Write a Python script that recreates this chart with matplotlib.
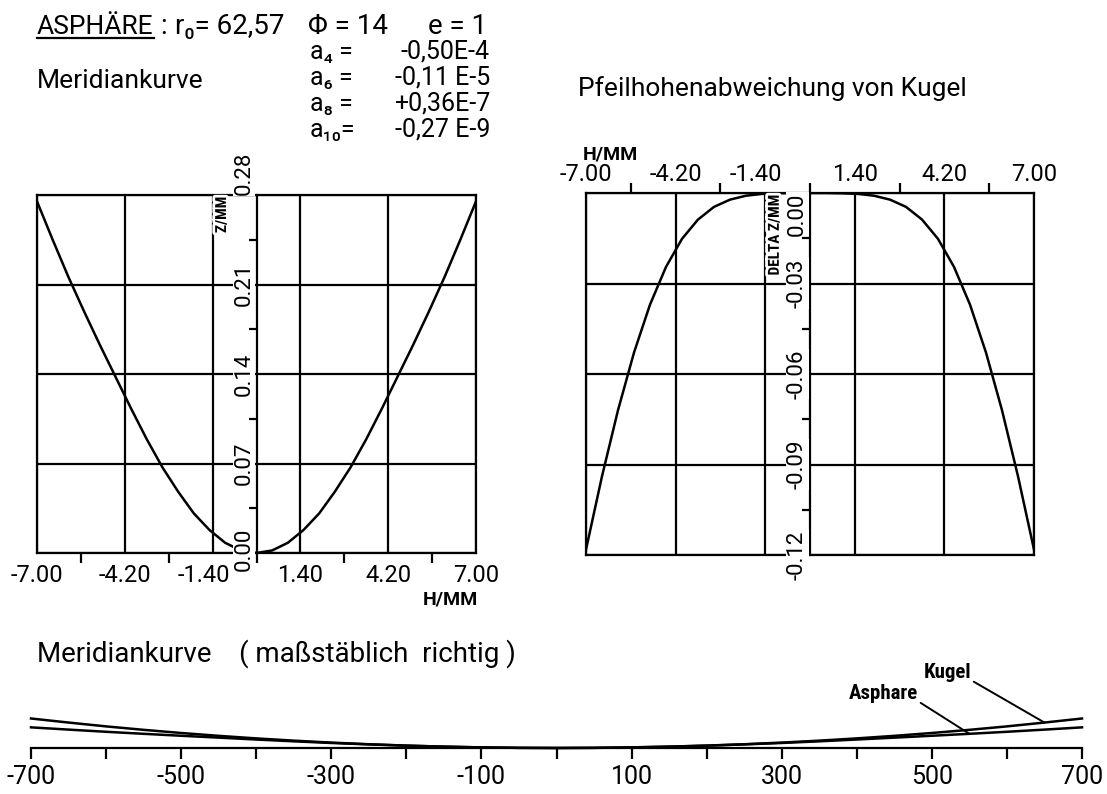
import matplotlib
matplotlib.use('Agg')
import matplotlib.pyplot as plt
import matplotlib.patheffects as pe
from matplotlib.lines import Line2D
from matplotlib.transforms import ScaledTranslation

plt.rcParams['font.family'] = ['Roboto', 'DejaVu Sans']
NARROW = ['Roboto Condensed', 'Roboto', 'DejaVu Sans']

# ray height H in mm
h_mm = [-7.0, -6.5, -6.0, -5.5, -5.0, -4.5, -4.0, -3.5, -3.0, -2.5, -2.0, -1.5, -1.0, -0.5,
        0.0, 0.5, 1.0, 1.5, 2.0, 2.5, 3.0, 3.5, 4.0, 4.5, 5.0, 5.5, 6.0, 6.5, 7.0]
# sag of the asphere Z/mm (Meridiankurve)
z_asphere = [0.275, 0.245, 0.216, 0.189, 0.163, 0.138, 0.113, 0.089, 0.067, 0.048, 0.031, 0.018, 0.008, 0.002,
             0.000, 0.002, 0.008, 0.018, 0.031, 0.048, 0.067, 0.089, 0.113, 0.138, 0.163, 0.189, 0.216, 0.245, 0.275]
# sag of the reference sphere (Kugel)
z_sphere = [0.393, 0.339, 0.288, 0.242, 0.200, 0.162, 0.128, 0.098, 0.072, 0.050, 0.032, 0.018, 0.008, 0.002,
            0.000, 0.002, 0.008, 0.018, 0.032, 0.050, 0.072, 0.098, 0.128, 0.162, 0.200, 0.242, 0.288, 0.339, 0.393]
# deviation from the sphere, DELTA Z/mm
dz = [-0.1182, -0.0939, -0.0720, -0.0529, -0.0370, -0.0245, -0.0152, -0.0088, -0.0046, -0.0022, -0.0009, -0.0003, -0.0001, 0.0,
      0.0, 0.0, -0.0001, -0.0003, -0.0009, -0.0022, -0.0046, -0.0088, -0.0152, -0.0245, -0.0370, -0.0529, -0.0720, -0.0939, -0.1182]

h_ticks = [-7.00, -4.20, -1.40, 1.40, 4.20, 7.00]
h_labels = ['-7.00', '-4.20', '-1.40', '1.40', '4.20', '7.00']
h_minor = [-5.6, -2.8, 0.0, 2.8, 5.6]
z_ticks = [0.00, 0.07, 0.14, 0.21, 0.28]
z_labels = ['0.00', '0.07', '0.14', '0.21', '0.28']
z_minor = [0.035, 0.105, 0.175, 0.245]
dz_ticks = [-0.12, -0.09, -0.06, -0.03, 0.00]
dz_labels = ['-0.12', '-0.09', '-0.06', '-0.03', '0.00']
dz_minor = [-0.105, -0.075, -0.045, -0.015]
scale_ticks = [-700, -500, -300, -100, 100, 300, 500, 700]
scale_labels = ['-700', '-500', '-300', '-100', '100', '300', '500', '700']
scale_minor = [-600, -400, -200, 0, 200, 400, 600]

LW = 1.6
FS = 17
halo = [pe.withStroke(linewidth=4, foreground='white')]

fig = plt.figure(figsize=(11.07, 7.94), dpi=100)


def shift(artist, dx_px, dy_px):
    artist.set_transform(artist.get_transform() + ScaledTranslation(dx_px / 100, dy_px / 100, fig.dpi_scale_trans))


def panel(rect, yt, yl, ym, xlab_top):
    ax = fig.add_axes(rect)
    ax.set_xlim(h_ticks[0], h_ticks[-1])
    ax.set_ylim(yt[0], yt[-1])
    ax.set_xticks(h_ticks, h_labels)
    ax.set_xticks(h_minor, minor=True)
    ax.set_yticks(yt, yl)
    ax.set_yticks(ym, minor=True)
    ax.grid(True, which='major', color='black', lw=LW)
    ax.set_axisbelow(False)
    for s in ax.spines.values():
        s.set_linewidth(LW)
    ax.spines['left'].set_position(('data', 0))
    ax.axvline(h_ticks[0], color='black', lw=LW, clip_on=False)
    if xlab_top:
        ax.xaxis.set_ticks_position('top')
        ax.xaxis.set_label_position('top')
        ax.tick_params(axis='x', which='major', length=0, pad=5, labelsize=FS)
    else:
        ax.tick_params(axis='x', which='major', length=0, pad=8, labelsize=FS)
    ax.tick_params(axis='x', which='minor', direction='out', length=7, width=LW)
    ax.tick_params(axis='y', which='major', length=0, pad=9, labelsize=16, labelrotation=90)
    ax.tick_params(axis='y', which='minor', direction='out', length=5.5, width=LW)
    for lab in ax.get_yticklabels():
        lab.set_ha('center')
        lab.set_va('center')
        lab.set_bbox(dict(facecolor='white', edgecolor='none', pad=0.5))
    # the label next to the zero axis is pushed left, as on the plotter sheet
    shift(ax.get_xticklabels()[2], -9, 0)
    return ax


# Meridiankurve
ax1 = panel([37 / 1107, 241 / 794, 439 / 1107, 358 / 794], z_ticks, z_labels, z_minor, False)
ax1.get_yticklabels()[-1].set_va('bottom')
shift(ax1.get_yticklabels()[0], 0, 4)
ax1.plot(h_mm, z_asphere, color='black', lw=1.8)
ax1.text(-1.1, 0.995, 'Z/MM', transform=ax1.get_xaxis_transform(), rotation=90,
         ha='center', va='top', fontsize=11, fontweight='bold', family=NARROW,
         path_effects=halo, zorder=5)
ax1.text(1.005, -0.13, 'H/MM', transform=ax1.transAxes, ha='right', va='center',
         fontsize=14, fontweight='bold')

# Pfeilhoehenabweichung von Kugel
ax2 = panel([586 / 1107, 239 / 794, 448 / 1107, 362 / 794], dz_ticks, dz_labels, dz_minor, True)
ax2.get_yticklabels()[-1].set_va('top')
ax2.plot(h_mm, dz, color='black', lw=1.8)
ax2.text(-1.1, 0.995, 'DELTA Z/MM', transform=ax2.get_xaxis_transform(), rotation=90,
         ha='center', va='top', fontsize=11, fontweight='bold', family=NARROW,
         path_effects=halo, zorder=5)
ax2.text(-0.007, 1.105, 'H/MM', transform=ax2.transAxes, ha='left', va='center',
         fontsize=14, fontweight='bold')

# true-scale meridian curve, H and Z in 1/100 mm
ax3 = fig.add_axes([31 / 1107, 46 / 794, 1051 / 1107, 0.1])
xs = [v * 100 for v in h_mm]
ax3.plot(xs, [v * 100 for v in z_sphere], color='black', lw=1.8, clip_on=False)
ax3.plot(xs, [v * 100 for v in z_asphere], color='black', lw=1.8, clip_on=False)
ax3.set_xlim(scale_ticks[0], scale_ticks[-1])
ax3.set_ylim(0, 60)
ax3.set_aspect('equal', adjustable='box', anchor='S')
for side in ['top', 'left', 'right']:
    ax3.spines[side].set_visible(False)
ax3.spines['bottom'].set_linewidth(LW)
ax3.set_yticks([])
ax3.set_xticks(scale_ticks, scale_labels)
ax3.set_xticks(scale_minor, minor=True)
ax3.tick_params(axis='x', which='both', direction='out', length=8, width=LW, labelsize=18, pad=4)
ax3.annotate('Kugel', xy=(xs[27], z_sphere[27] * 100), xytext=(-70, 36), textcoords='offset points',
             ha='center', va='center', fontsize=15, fontweight='bold', family=NARROW,
             arrowprops=dict(arrowstyle='-', color='black', lw=1.4, relpos=(1, 0.1), shrinkA=0, shrinkB=0))
ax3.annotate('Asphare', xy=(xs[25], z_asphere[25] * 100), xytext=(-62, 29), textcoords='offset points',
             ha='center', va='center', fontsize=15, fontweight='bold', family=NARROW,
             arrowprops=dict(arrowstyle='-', color='black', lw=1.4, relpos=(1, 0.1), shrinkA=0, shrinkB=0))


# header texts
def fx(px):
    return px / 1107


def fy(px):
    return 1 - px / 794


t_asph = fig.text(fx(37), fy(34), 'ASPHÄRE', fontsize=19, va='baseline')
fig.text(fx(160), fy(34), ':', fontsize=20, va='baseline')
fig.text(fx(175), fy(34), 'r₀= 62,57', fontsize=20, va='baseline')
fig.text(fx(308), fy(34), 'Φ = 14', fontsize=20, va='baseline')
fig.text(fx(428), fy(34), 'e = 1', fontsize=20, va='baseline')
coef_names = ['a₄ =', 'a₆ =', 'a₈ =', 'a₁₀=']
coef_values = ['-0,50E-4', '-0,11 E-5', '+0,36E-7', '-0,27 E-9']
for i, (name, val) in enumerate(zip(coef_names, coef_values)):
    fig.text(fx(310), fy(59 + 26 * i), name, fontsize=18, va='baseline')
    fig.text(fx(490), fy(59 + 26 * i), val, fontsize=18, va='baseline', ha='right')
fig.text(fx(37), fy(88), 'Meridiankurve', fontsize=19, va='baseline')
fig.text(fx(578), fy(96), 'Pfeilhohenabweichung von Kugel', fontsize=19, va='baseline')
fig.text(fx(37), fy(662), 'Meridiankurve    ( maßstäblich  richtig )', fontsize=20, va='baseline')

fig.canvas.draw()
bb = t_asph.get_window_extent()
W = fig.bbox.width
fig.add_artist(Line2D([bb.x0 / W, bb.x1 / W], [fy(38), fy(38)], transform=fig.transFigure,
                      color='black', lw=1.6))

fig.savefig('out.png', dpi=100)
